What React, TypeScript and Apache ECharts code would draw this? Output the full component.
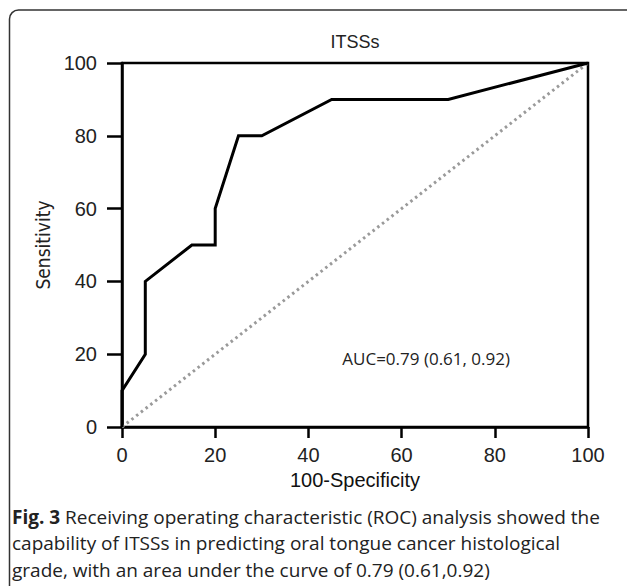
import React, { useEffect, useRef } from "react";
import * as echarts from "echarts";

const fpr = [0, 0, 5, 5, 15, 20, 20, 25, 30, 45, 70, 100];
const tpr = [0, 10, 20, 40, 50, 50, 60, 80, 80, 90, 90, 100];
const chanceX = [0, 100];
const chanceY = [0, 100];
const axisTicks = [0, 20, 40, 60, 80, 100];

const chartTitle = "ITSSs";
const xName = "100-Specificity";
const yName = "Sensitivity";
const aucText = "AUC=0.79 (0.61, 0.92)";
const captionLines = [
  "Receiving operating characteristic (ROC) analysis showed the",
  "capability of ITSSs in predicting oral tongue cancer histological",
  "grade, with an area under the curve of 0.79 (0.61,0.92)",
];

const SANS = "'Liberation Sans', Arial, sans-serif";
const CAP = "'Open Sans', 'Noto Sans', sans-serif";

export default function App() {
  const ref = useRef<HTMLDivElement>(null);
  useEffect(() => {
    if (!ref.current) return;
    const chart = echarts.init(ref.current, null, { renderer: "svg" });
    const curve = fpr.map((x, i) => [x, tpr[i]]);
    const chance = chanceX.map((x, i) => [x, chanceY[i]]);
    chart.setOption({
      animation: false,
      backgroundColor: "#fff",
      grid: {
        left: 122,
        right: 39,
        top: 63,
        bottom: 159,
        show: true,
        borderColor: "#000",
        borderWidth: 2.5,
        backgroundColor: "transparent",
      },
      xAxis: {
        type: "value",
        min: 0,
        max: 100,
        interval: 20,
        name: xName,
        nameLocation: "middle",
        nameGap: 43,
        nameTextStyle: { fontFamily: SANS, fontSize: 20, color: "#111" },
        axisLine: { lineStyle: { color: "#000", width: 2.5 } },
        axisTick: { length: 11, lineStyle: { color: "#000", width: 2.5 } },
        axisLabel: {
          margin: 18,
          fontFamily: SANS,
          fontSize: 20,
          color: "#222",
          customValues: axisTicks,
        },
        splitLine: { show: false },
      },
      yAxis: {
        type: "value",
        min: 0,
        max: 100,
        interval: 20,
        name: yName,
        nameLocation: "middle",
        nameGap: 66,
        nameRotate: 90,
        nameTextStyle: {
          fontFamily: "'Liberation Sans Narrow', 'DejaVu Sans Condensed', sans-serif",
          fontSize: 19,
          color: "#222",
        },
        axisLine: { lineStyle: { color: "#000", width: 2.5 } },
        axisTick: { length: 15, lineStyle: { color: "#000", width: 2.5 } },
        axisLabel: { margin: 25, fontFamily: SANS, fontSize: 20, color: "#222" },
        splitLine: { show: false },
      },
      series: [
        {
          type: "line",
          data: chance,
          symbol: "none",
          silent: true,
          lineStyle: { color: "#9a9a9a", width: 3, type: [2.5, 3.5] },
          z: 1,
        },
        {
          type: "line",
          data: curve,
          symbol: "none",
          silent: true,
          lineStyle: { color: "#000", width: 3, join: "miter" },
          z: 2,
        },
      ],
      graphic: [
        {
          type: "rect",
          shape: { x: 9.5, y: 10, width: 640, height: 640, r: 9 },
          style: { fill: "none", stroke: "#333", lineWidth: 1.5 },
          silent: true,
        },
        {
          type: "text",
          x: 355,
          y: 42,
          style: {
            text: chartTitle,
            font: `18px ${SANS}`,
            fill: "#222",
            textAlign: "center",
            textVerticalAlign: "middle",
          },
        },
        {
          type: "text",
          x: 510,
          y: 358,
          style: {
            text: aucText,
            font: `17px ${CAP}`,
            fill: "#222",
            textAlign: "right",
            textVerticalAlign: "middle",
          },
        },
        {
          type: "text",
          x: 12,
          y: 517,
          style: {
            text: "{b|Fig. 3} " + captionLines[0],
            font: `19px ${CAP}`,
            fill: "#222",
            textVerticalAlign: "middle",
            rich: {
              b: { fontFamily: CAP, fontSize: 19, fontWeight: "bold", fill: "#222" },
            },
          },
        },
        {
          type: "text",
          x: 12,
          y: 543,
          style: {
            text: captionLines[1],
            font: `19px ${CAP}`,
            fill: "#222",
            textVerticalAlign: "middle",
          },
        },
        {
          type: "text",
          x: 12,
          y: 570,
          style: {
            text: captionLines[2],
            font: `19px ${CAP}`,
            fill: "#222",
            textVerticalAlign: "middle",
          },
        },
      ],
    });
    return () => chart.dispose();
  }, []);
  return (
    <div
      ref={ref}
      style={{ position: "fixed", left: 0, top: 0, width: 627, height: 586 }}
    />
  );
}
